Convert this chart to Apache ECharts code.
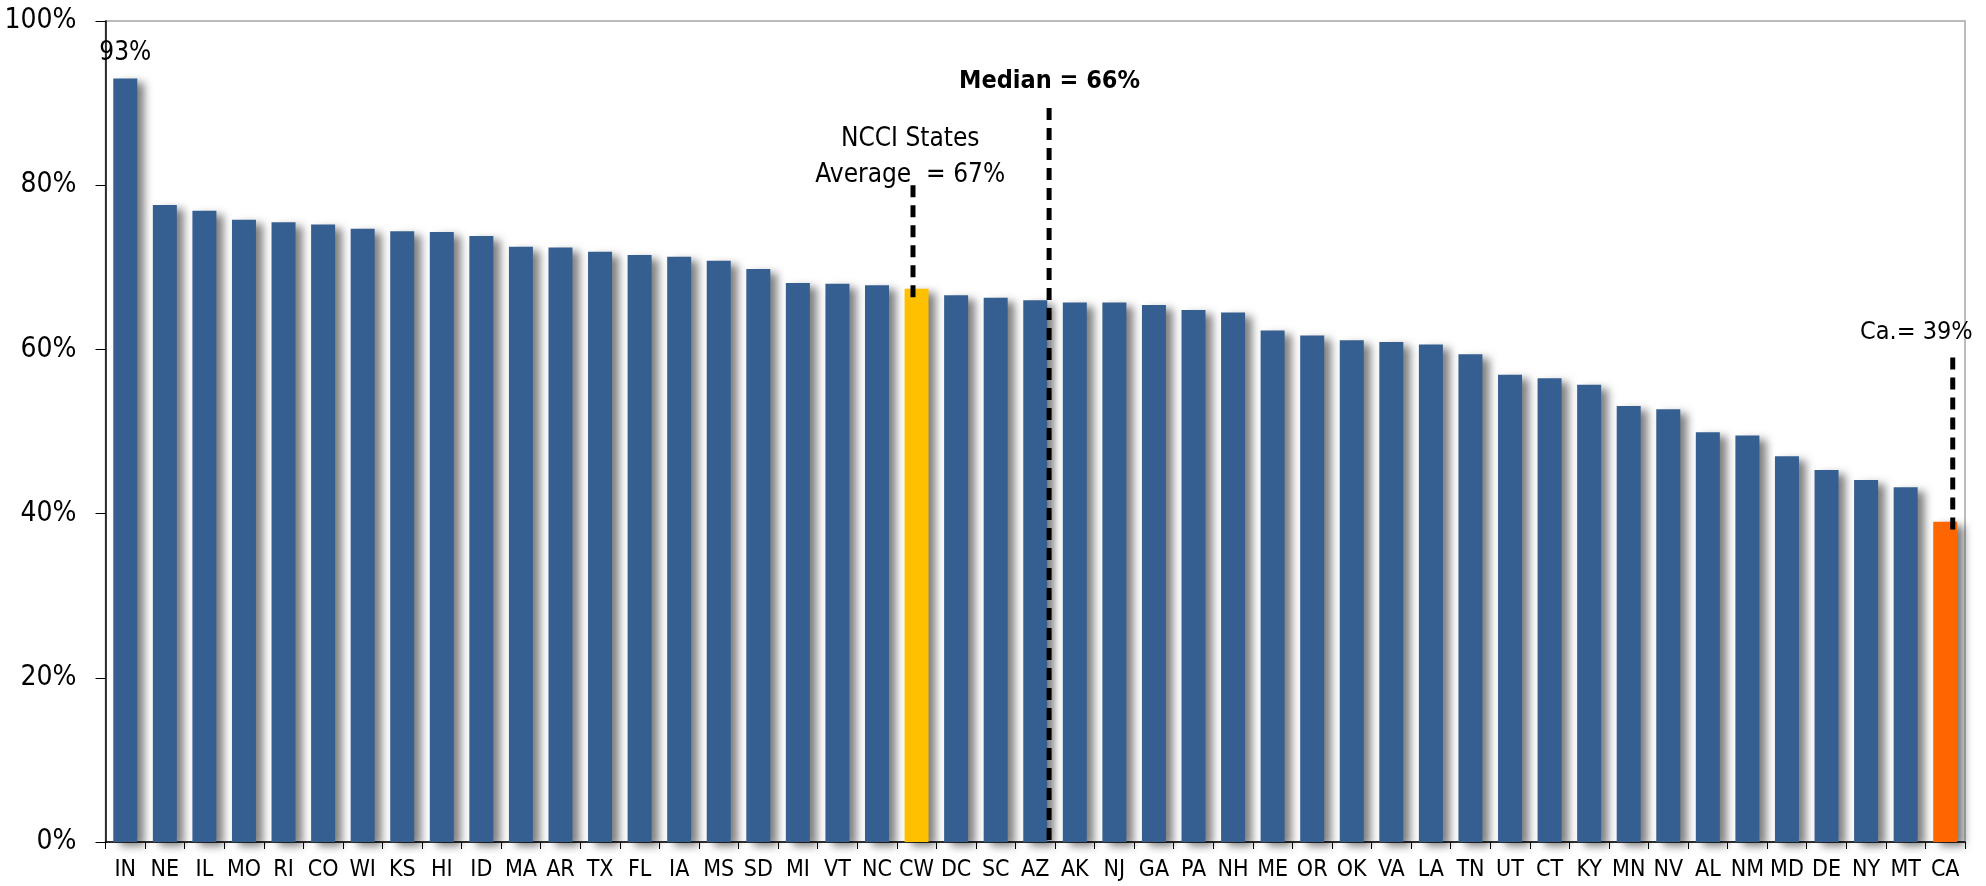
<!DOCTYPE html>
<html>
<head>
<meta charset="utf-8">
<title>Rates by State</title>
<script src="https://cdn.jsdelivr.net/npm/echarts@6/dist/echarts.min.js"></script>
<style>
  html, body { margin: 0; padding: 0; background: #ffffff; }
  #chart { width: 1986px; height: 886px; }
</style>
</head>
<body>
<div id="chart"></div>
<script>
// Jurisdictions, sorted from highest to lowest rate
const states = ['IN','NE','IL','MO','RI','CO','WI','KS','HI','ID','MA','AR','TX','FL','IA','MS','SD','MI','VT','NC','CW','DC','SC','AZ','AK','NJ','GA','PA','NH','ME','OR','OK','VA','LA','TN','UT','CT','KY','MN','NV','AL','NM','MD','DE','NY','MT','CA'];

// Rate for each jurisdiction, in percent
const rates = [93.0, 77.6, 76.9, 75.8, 75.5, 75.2, 74.7, 74.4, 74.3, 73.8,
               72.5, 72.4, 71.9, 71.5, 71.3, 70.8, 69.8, 68.1, 68.0, 67.8,
               67.4, 66.6, 66.3, 66.0, 65.7, 65.7, 65.4, 64.8, 64.5, 62.3,
               61.7, 61.1, 60.9, 60.6, 59.4, 56.9, 56.5, 55.7, 53.1, 52.7,
               49.9, 49.5, 47.0, 45.3, 44.1, 43.2, 39.0];

// Value-axis tick labels
const yTicks = [0, 20, 40, 60, 80, 100];

// Reference figures quoted in the callouts
const ncciAverage = 67;
const medianRate = 66;
const caRate = 39;

const FONT = '"Liberation Sans Narrow", "Arial Narrow", "DejaVu Sans Condensed", "Liberation Sans", Arial, sans-serif';
const BLUE = '#365F91';
const YELLOW = '#FFC000';
const ORANGE = '#FF6600';

function barColor(name) {
  if (name === 'CW') return YELLOW;
  if (name === 'CA') return ORANGE;
  return BLUE;
}

const barData = states.map((s, i) => ({
  value: rates[i],
  itemStyle: { color: barColor(s) },
  label: i === 0 ? { show: true } : { show: false }
}));

const dashStyle = { color: '#000000', width: 5, type: [12, 8] };

function dashedLine(x, y0, y1) {
  return {
    type: 'line',
    xAxisIndex: 1,
    yAxisIndex: 0,
    data: [[x, y0], [x, y1]],
    symbol: 'none',
    clip: false,
    silent: true,
    z: 5,
    lineStyle: dashStyle
  };
}

function callout(x, y, text, weight, size) {
  return {
    type: 'scatter',
    xAxisIndex: 1,
    yAxisIndex: 0,
    data: [[x, y]],
    symbolSize: 0,
    clip: false,
    silent: true,
    z: 6,
    itemStyle: { opacity: 1, color: '#000000' },
    label: {
      show: true,
      position: 'inside',
      formatter: text,
      color: '#000000',
      opacity: 1,
      fontFamily: FONT,
      fontSize: size,
      fontWeight: weight,
      lineHeight: 36,
      align: 'center',
      verticalAlign: 'middle'
    }
  };
}

const chart = echarts.init(document.getElementById('chart'), null, { renderer: 'canvas' });

chart.setOption({
  animation: false,
  backgroundColor: '#ffffff',
  grid: {
    left: 105.5, right: 21, top: 21, bottom: 44,
    show: true,
    borderColor: '#a6a6a6',
    borderWidth: 1.5,
    backgroundColor: 'transparent'
  },
  xAxis: [
    {
      type: 'category',
      data: states,
      axisLine: { lineStyle: { color: '#000000', width: 1.5 } },
      axisTick: { show: true, length: 7, alignWithLabel: false, lineStyle: { color: '#000000' } },
      axisLabel: {
        interval: 0, margin: 17, color: '#000000',
        fontFamily: FONT, fontSize: 23
      },
      splitLine: { show: false }
    },
    {
      type: 'value',
      min: 0, max: states.length,
      show: false
    }
  ],
  yAxis: {
    type: 'value',
    min: yTicks[0], max: yTicks[yTicks.length - 1], interval: 20,
    axisLine: { show: true, lineStyle: { color: '#000000', width: 1.5 } },
    axisTick: { show: true, length: 10, inside: false, lineStyle: { color: '#000000' } },
    axisLabel: {
      margin: 29, color: '#000000',
      fontFamily: FONT, fontSize: 28,
      formatter: '{value}%'
    },
    splitLine: { show: false }
  },
  series: [
    {
      type: 'bar',
      data: barData,
      barWidth: 24,
      z: 2,
      itemStyle: {
        shadowColor: 'rgba(0,0,0,0.5)',
        shadowBlur: 9,
        shadowOffsetX: 7,
        shadowOffsetY: 4
      },
      label: {
        position: 'top',
        distance: 12,
        formatter: p => Math.round(p.value) + '%',
        color: '#000000',
        fontFamily: FONT,
        fontSize: 26
      }
    },
    // Callout leader lines
    dashedLine(20.41, 80.0, 65.6),
    dashedLine(23.85, 89.4, 0),
    dashedLine(46.69, 59.0, 37.6),
    // Callout texts
    callout(20.34, 83.4, 'NCCI States\nAverage  = ' + ncciAverage + '%', 'normal', 26),
    callout(23.86, 92.6, 'Median = ' + medianRate + '%', 'bold', 25),
    callout(45.77, 62.1, 'Ca.= ' + caRate + '%', 'normal', 25)
  ]
});
</script>
</body>
</html>
